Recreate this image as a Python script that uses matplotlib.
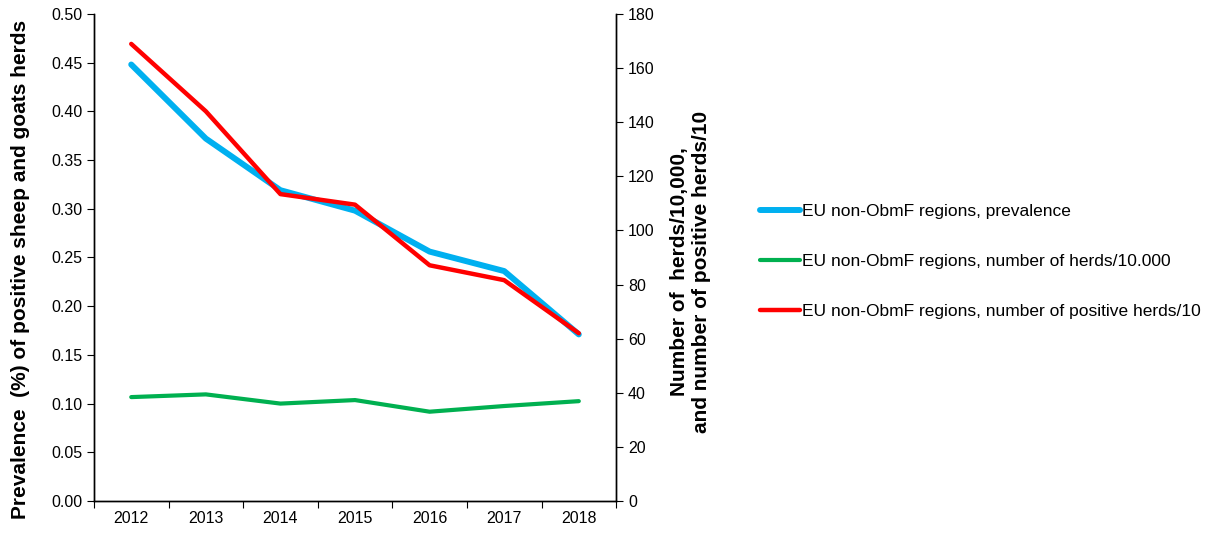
import matplotlib
matplotlib.use("Agg")
import matplotlib.pyplot as plt
import numpy as np

plt.rcParams['font.family'] = ['Liberation Sans', 'DejaVu Sans']

years = ["2012", "2013", "2014", "2015", "2016", "2017", "2018"]
prevalence = [0.448, 0.372, 0.319, 0.298, 0.256, 0.236, 0.171]
herds_10000 = [38.4, 39.4, 36.0, 37.3, 33.0, 35.1, 36.9]
positive_10 = [168.9, 144.0, 113.4, 109.5, 87.1, 81.6, 62.0]

blue = "#00B0F0"
green = "#00B050"
red = "#FF0000"

fig = plt.figure(figsize=(12.2, 5.33), dpi=100)
ax = fig.add_axes([0.077, 0.06, 0.428, 0.914])
ax2 = ax.twinx()

x = np.arange(len(years))
l1, = ax.plot(x, prevalence, color=blue, lw=4.3, solid_capstyle='round',
              label="EU non-ObmF regions, prevalence")
l2, = ax2.plot(x, herds_10000, color=green, lw=3.0, solid_capstyle='round',
               label="EU non-ObmF regions, number of herds/10.000")
l3, = ax2.plot(x, positive_10, color=red, lw=3.2, solid_capstyle='round',
               label="EU non-ObmF regions, number of positive herds/10")

ax.set_xlim(-0.5, len(years) - 0.5)
ax.set_ylim(0, 0.5)
ax2.set_ylim(0, 180)
ax.set_yticks(np.arange(0, 0.501, 0.05))
ax.set_yticklabels([f"{v:.2f}" for v in np.arange(0, 0.501, 0.05)])
ax2.set_yticks(np.arange(0, 181, 20))

# category ticks at boundaries, labels centred
ax.set_xticks(np.arange(-0.5, len(years), 1.0))
ax.set_xticklabels([])
ax.set_xticks(x, minor=True)
ax.set_xticklabels(years, minor=True)
ax.tick_params(axis='x', which='minor', length=0, pad=7, labelsize=11.5)
ax.tick_params(axis='x', which='major', length=5, direction='out')
ax.tick_params(axis='y', length=5, labelsize=11.5)
ax2.tick_params(axis='y', length=5, labelsize=11.5)

for a in (ax, ax2):
    a.spines['top'].set_visible(False)
    for s in a.spines.values():
        s.set_linewidth(1.0)

ax.set_ylabel("Prevalence  (%) of positive sheep and goats herds",
              fontsize=15, fontweight='bold')
ax2.set_ylabel("Number of  herds/10,000,\nand number of positive herds/10",
               fontsize=15, fontweight='bold', rotation=90, va='center')
ax.yaxis.set_label_coords(-0.123, 0.475)
ax2.yaxis.set_label_coords(1.142, 0.47)

fig.legend(handles=[l1, l2, l3], loc='center left',
           bbox_to_anchor=(0.623, 0.51), frameon=False, fontsize=12.5,
           handlelength=2.3, handletextpad=0.1, labelspacing=2.0,
           borderpad=0, borderaxespad=0)

fig.savefig("out.png", dpi=100)
